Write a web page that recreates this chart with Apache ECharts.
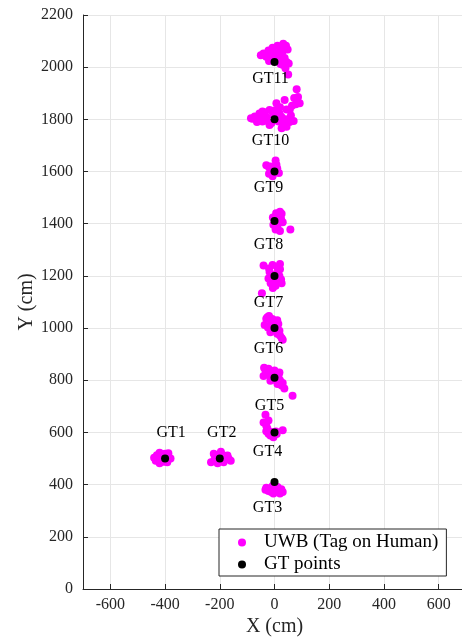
<!DOCTYPE html>
<html>
<head>
<meta charset="utf-8">
<script src="https://cdn.jsdelivr.net/npm/echarts@6/dist/echarts.min.js"></script>
<style>
html,body{margin:0;padding:0;background:#fff;}
#chart{width:462px;height:641px;}
</style>
</head>
<body>
<div id="chart"></div>
<script>
// ---------- data ----------
var xTicks = [-600, -400, -200, 0, 200, 400, 600];
var yTicks = [0, 200, 400, 600, 800, 1000, 1200, 1400, 1600, 1800, 2000, 2200];

var gtNames = ['GT1','GT2','GT3','GT4','GT5','GT6','GT7','GT8','GT9','GT10','GT11'];
var gtX = [-400, -200, 0, 0, 0, 0, 0, 0, 0, 0, 0];
var gtY = [500, 500, 410, 600, 810, 1000, 1200, 1410, 1600, 1800, 2020];

var uwbGT1 = [[-440,503],[-430,513],[-420,522],[-388,520],[-380,500],[-420,482],[-434,492],[-392,486],[-411,508],[-389,511],[-400,518],[-415,492],[-395,495],[-405,488],[-425,500],[-398,508]];
var uwbGT2 = [[-222,518],[-196,526],[-172,512],[-160,492],[-232,486],[-208,482],[-186,486],[-215,500],[-178,500],[-190,514],[-210,512],[-200,490],[-220,494],[-188,500],[-168,500]];
var uwbGT3 = [[-30,388],[-7,395],[25,382],[-4,366],[20,366],[-22,376],[11,391],[-33,380],[30,372],[4,374],[15,378],[-15,385],[0,382],[-12,372],[24,374]];
var uwbGT4 = [[-33,668],[-22,646],[-40,638],[-30,626],[30,608],[-30,605],[-15,588],[-4,582],[-22,595],[8,594],[-26,615],[0,592],[-10,602],[-18,600],[5,604]];
var uwbGT5 = [[-38,848],[-22,844],[-40,816],[18,830],[26,780],[36,768],[66,741],[-7,802],[11,786],[-29,829],[0,837],[-15,798],[20,800],[-33,838],[15,820],[30,790],[-20,820],[5,812],[-10,830]];
var uwbGT6 = [[-30,1036],[-20,1046],[10,1030],[-36,1012],[20,972],[30,955],[-15,984],[-11,1022],[18,990],[-26,1042],[26,962],[-24,1002],[5,1010],[10,978],[-8,1035],[-14,1000],[14,1016]];
var uwbGT7 = [[-40,1240],[20,1246],[-7,1242],[20,1226],[26,1172],[-14,1172],[-46,1134],[4,1162],[-22,1190],[18,1200],[-18,1215],[11,1232],[-6,1154],[24,1186],[-20,1228],[-10,1205],[12,1214],[-4,1178],[14,1180]];
var uwbGT8 = [[26,1438],[15,1432],[30,1406],[58,1378],[20,1372],[4,1378],[-4,1396],[-6,1424],[18,1420],[11,1395],[20,1446],[10,1386],[24,1418],[6,1440]];
var uwbGT9 = [[-30,1624],[4,1642],[-15,1619],[10,1612],[16,1594],[-20,1592],[-7,1582],[-20,1616],[7,1626],[-11,1598],[-6,1608]];
var uwbGT10 = [[81,1915],[86,1886],[72,1882],[92,1862],[37,1874],[7,1862],[64,1852],[44,1838],[18,1823],[-18,1836],[-37,1827],[-55,1822],[-72,1811],[-80,1802],[-64,1790],[-44,1792],[-29,1808],[-11,1786],[15,1792],[33,1782],[55,1790],[70,1794],[26,1766],[-18,1778],[44,1772],[-86,1804],[-44,1830],[0,1834],[60,1815],[-60,1805],[25,1810],[78,1858],[10,1806],[-5,1818],[40,1800],[-30,1795],[56,1838],[-50,1812],[20,1846]];
var uwbGT11 = [[-40,2052],[-50,2046],[-22,2064],[-7,2074],[11,2082],[32,2090],[42,2082],[48,2068],[29,2058],[7,2051],[-15,2035],[18,2039],[37,2035],[44,2020],[29,2009],[52,2014],[40,1996],[50,1972],[-20,2024],[11,2028],[22,2012],[-30,2040],[0,2045],[20,2070],[-8,2058],[30,2030]];

// ---------- styling ----------
var FONT = 'Liberation Serif';
// label offsets in pixels relative to each GT point (style only)
var gtLabelOffset = [[6,-26],[2,-26],[-7,26],[-7,19],[-5,28],[-6,21],[-6,27],[-6,24],[-6,16],[-4,21],[-4,17]];

var uwbData = [].concat(uwbGT1, uwbGT2, uwbGT3, uwbGT4, uwbGT5, uwbGT6, uwbGT7, uwbGT8, uwbGT9, uwbGT10, uwbGT11);
var gtData = gtNames.map(function (n, i) {
  return {
    name: n,
    value: [gtX[i], gtY[i]],
    label: { offset: gtLabelOffset[i] }
  };
});

var chart = echarts.init(document.getElementById('chart'), null, { renderer: 'canvas' });
chart.setOption({
  animation: false,
  backgroundColor: '#ffffff',
  textStyle: { fontFamily: FONT },
  grid: { left: 83, right: -4, top: 15, bottom: 52, containLabel: false, outerBoundsMode: 'none' },
  xAxis: {
    type: 'value',
    min: -700, max: 700,
    name: 'X (cm)',
    nameLocation: 'middle',
    nameGap: 28,
    nameMoveOverlap: false,
    nameTextStyle: { fontFamily: FONT, fontSize: 20, color: '#262626' },
    axisLine: { show: true, onZero: false, lineStyle: { color: '#262626', width: 1 } },
    axisTick: { show: true, inside: true, length: 5, customValues: xTicks, lineStyle: { color: '#262626' } },
    axisLabel: { customValues: xTicks, margin: 8, fontFamily: FONT, fontSize: 16, color: '#262626',
      formatter: function (v) { return String(v); } },
    splitLine: { show: true, lineStyle: { color: '#e6e6e6', width: 1 } }
  },
  yAxis: {
    type: 'value',
    min: 0, max: 2200, interval: 200,
    name: 'Y (cm)',
    nameLocation: 'middle',
    nameGap: 46,
    nameMoveOverlap: false,
    nameTextStyle: { fontFamily: FONT, fontSize: 20, color: '#262626' },
    axisLine: { show: true, onZero: false, lineStyle: { color: '#262626', width: 1 } },
    axisTick: { show: true, inside: true, length: 5, lineStyle: { color: '#262626' } },
    axisLabel: { margin: 10, fontFamily: FONT, fontSize: 16, color: '#262626',
      formatter: function (v) { return String(v); } },
    splitLine: { show: true, lineStyle: { color: '#e6e6e6', width: 1 } }
  },
  legend: {
    orient: 'vertical',
    left: 219, top: 529,
    padding: [4, 8, 2, 19],
    itemWidth: 8, itemHeight: 8,
    itemGap: 3,
    backgroundColor: '#ffffff',
    borderColor: '#262626',
    borderWidth: 1,
    borderRadius: 0,
    textStyle: { fontFamily: FONT, fontSize: 19, color: '#000000', padding: [0, 0, 0, 13] },
    data: [
      { name: 'UWB (Tag on Human)', icon: 'circle' },
      { name: 'GT points', icon: 'circle' }
    ]
  },
  series: [
    {
      name: 'UWB (Tag on Human)',
      type: 'scatter',
      symbol: 'circle',
      symbolSize: 8,
      itemStyle: { color: '#ff00ff', opacity: 1 },
      data: uwbData,
      z: 2
    },
    {
      name: 'GT points',
      type: 'scatter',
      symbol: 'circle',
      symbolSize: 8,
      itemStyle: { color: '#000000', opacity: 1 },
      label: {
        show: true,
        position: 'inside',
        formatter: '{b}',
        fontFamily: FONT,
        fontSize: 16,
        color: '#000000'
      },
      data: gtData,
      z: 3
    }
  ]
});
</script>
</body>
</html>
